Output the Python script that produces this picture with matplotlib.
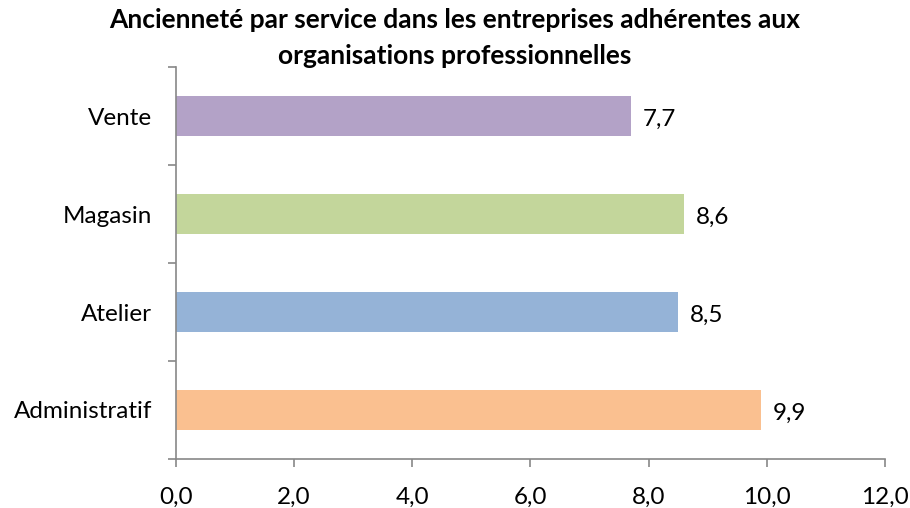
import matplotlib.pyplot as plt
from matplotlib.ticker import FuncFormatter, FixedLocator

services = ["Administratif", "Atelier", "Magasin", "Vente"]
anciennete = [9.9, 8.5, 8.6, 7.7]
couleurs = ["#FAC090", "#95B3D7", "#C3D69B", "#B3A2C7"]
titre = "Ancienneté par service dans les entreprises adhérentes aux\norganisations professionnelles"

plt.rcParams['font.family'] = ['Lato', 'DejaVu Sans']

fig = plt.figure(figsize=(9.1, 5.08), dpi=100)
ax = fig.add_axes([0.1934, 0.0965, 0.7791, 0.7715])

pos = range(len(services))
ax.barh(pos, anciennete, height=0.4, color=couleurs)
for p, v in zip(pos, anciennete):
    ax.text(v + 0.2, p - 0.03, f"{v:.1f}".replace(".", ","), va="center", ha="left", fontsize=17.5)

ax.set_xlim(0, 12)
ax.set_ylim(-0.5, 3.5)
ax.set_xticks(range(0, 13, 2))
ax.xaxis.set_major_formatter(FuncFormatter(lambda x, _: f"{x:.1f}".replace(".", ",")))
ax.set_yticks(list(pos))
ax.set_yticklabels(services)
ax.yaxis.set_minor_locator(FixedLocator([-0.5, 0.5, 1.5, 2.5, 3.5]))
ax.tick_params(axis="y", which="major", length=0, labelsize=17.5, pad=17)
ax.tick_params(axis="y", which="minor", length=6, color="#888888", width=1.2)
ax.tick_params(axis="x", length=6, color="#888888", width=1.2, labelsize=17.5, pad=14)

for s in ["top", "right"]:
    ax.spines[s].set_visible(False)
for s in ["left", "bottom"]:
    ax.spines[s].set_color("#888888")
    ax.spines[s].set_linewidth(1.2)

fig.suptitle(titre, fontsize=19, fontweight="bold", y=0.985, linespacing=1.6)

fig.savefig("out.png", dpi=100)
